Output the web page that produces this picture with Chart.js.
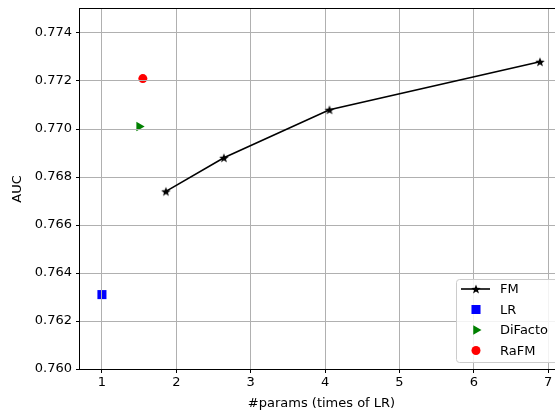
<!DOCTYPE html>
<html>
<head>
<meta charset="UTF-8">
<title>AUC vs params</title>
<script src="https://cdn.jsdelivr.net/npm/chart.js"></script>
<style>
  html, body { margin: 0; padding: 0; background: #fff; overflow: hidden; }
  #wrap { width: 600px; height: 411px; }
</style>
</head>
<body>
<div id="wrap"><canvas id="grafico"></canvas></div>
<script>
// dados
var fmX = [1.86, 2.64, 4.06, 6.89];
var fmY = [0.7674, 0.7688, 0.7708, 0.7728];
var lrX = [1.0];
var lrY = [0.7631];
var difactoX = [1.50];
var difactoY = [0.7701];
var rafmX = [1.55];
var rafmY = [0.7721];
var xTicks = [1, 2, 3, 4, 5, 6, 7];
var yTicks = [0.760, 0.762, 0.764, 0.766, 0.768, 0.770, 0.772, 0.774];

function pontos(xs, ys) {
  return xs.map(function (x, i) { return { x: x, y: ys[i] }; });
}

// estrela de 5 pontas (marcador '*' do matplotlib)
function estrela(r, cor) {
  var c = document.createElement('canvas');
  var s = Math.ceil(r * 2 + 2);
  c.width = s; c.height = s;
  var g = c.getContext('2d');
  g.beginPath();
  for (var i = 0; i < 10; i++) {
    var rr = i % 2 == 0 ? r : r * 0.42;
    var a = -Math.PI / 2 + i * Math.PI / 5;
    var px = s / 2 + rr * Math.cos(a), py = s / 2 + rr * Math.sin(a) + 0.5;
    if (i == 0) g.moveTo(px, py); else g.lineTo(px, py);
  }
  g.closePath();
  g.fillStyle = cor;
  g.fill();
  return c;
}
var marcaEstrela = estrela(5, '#000');

var fonte = { family: 'DejaVu Sans', size: 13 };

// grade por cima dos scatter, abaixo da linha (como no matplotlib)
var gradeSobre = {
  id: 'gradeSobre',
  beforeDatasetDraw: function (chart, args) {
    if (args.index !== 0) return;
    chart.scales.x.drawGrid(chart.chartArea);
    chart.scales.y.drawGrid(chart.chartArea);
  }
};

var moldura = {
  id: 'moldura',
  afterDraw: function (chart) {
    var a = chart.chartArea, ctx = chart.ctx;
    ctx.save();
    ctx.strokeStyle = '#000';
    ctx.lineWidth = 1;
    ctx.strokeRect(Math.round(a.left) - 0.5, Math.round(a.top) - 0.5, a.right - a.left + 1, a.bottom - a.top + 1);
    ctx.restore();
  }
};

var legenda = {
  id: 'legenda',
  afterDraw: function (chart) {
    var ctx = chart.ctx;
    var x0 = 456, y0 = 279, w = 108, h = 83;
    ctx.save();
    ctx.fillStyle = 'rgba(255,255,255,0.85)';
    ctx.strokeStyle = '#cccccc';
    ctx.lineWidth = 1;
    ctx.beginPath();
    ctx.roundRect(x0 + 0.5, y0 + 0.5, w, h, 3);
    ctx.fill();
    ctx.stroke();
    ctx.font = '13px "DejaVu Sans"';
    ctx.textBaseline = 'middle';
    chart.data.datasets.forEach(function (ds, i) {
      var cy = y0 + 10 + i * 20.5;
      var cx = x0 + 20;
      if (ds.showLine) {
        ctx.strokeStyle = ds.borderColor;
        ctx.lineWidth = ds.borderWidth;
        ctx.beginPath();
        ctx.moveTo(x0 + 5, cy);
        ctx.lineTo(x0 + 34, cy);
        ctx.stroke();
      }
      if (ds.pointStyle instanceof HTMLCanvasElement) {
        ctx.drawImage(ds.pointStyle, cx - ds.pointStyle.width / 2, cy - ds.pointStyle.height / 2);
      } else {
        ctx.fillStyle = ds.pointBackgroundColor;
        ctx.strokeStyle = ds.pointBackgroundColor;
        Chart.helpers.drawPoint(ctx, {
          pointStyle: ds.pointStyle, radius: ds.pointRadius, rotation: ds.rotation || 0, borderWidth: 0
        }, cx, cy);
      }
      ctx.fillStyle = '#000';
      ctx.fillText(ds.label, x0 + 44, cy + 1);
    });
    ctx.restore();
  }
};

var config = {
  type: 'scatter',
  data: {
    datasets: [{
      label: 'FM',
      data: pontos(fmX, fmY),
      showLine: true,
      borderColor: '#000',
      borderWidth: 1.6,
      pointStyle: marcaEstrela,
      pointRadius: 5,
      pointBackgroundColor: '#000'
    }, {
      label: 'LR',
      data: pontos(lrX, lrY),
      showLine: false,
      pointStyle: 'rect',
      pointRadius: 6.4,
      pointBorderWidth: 0,
      pointBackgroundColor: '#0000ff',
      borderColor: '#0000ff'
    }, {
      label: 'DiFacto',
      data: pontos(difactoX, difactoY),
      showLine: false,
      pointStyle: 'triangle',
      rotation: 90,
      pointRadius: 5.5,
      pointBorderWidth: 0,
      pointBackgroundColor: '#008000',
      borderColor: '#008000'
    }, {
      label: 'RaFM',
      data: pontos(rafmX, rafmY),
      showLine: false,
      pointStyle: 'circle',
      pointRadius: 4.5,
      pointBorderWidth: 0,
      pointBackgroundColor: '#ff0000',
      borderColor: '#ff0000'
    }]
  },
  options: {
    responsive: false,
    animation: false,
    devicePixelRatio: 1,
    layout: { padding: { top: 9, right: 37, bottom: 0, left: 0 } },
    plugins: { legend: { display: false }, tooltip: { enabled: false } },
    scales: {
      x: {
        type: 'linear',
        min: 0.705,
        max: 7.2,
        afterBuildTicks: function (s) { s.ticks = xTicks.map(function (v) { return { value: v }; }); },
        afterFit: function (s) { s.height = 42; s.paddingLeft = 0; s.paddingRight = 0; },
        grid: { color: '#b0b0b0', lineWidth: 1, tickLength: 4, tickColor: '#000', drawOnChartArea: true },
        border: { display: false },
        ticks: { color: '#000', font: fonte, padding: 2, maxRotation: 0 },
        title: { display: true, text: '#params (times of LR)', color: '#000', font: fonte, padding: { top: 0, bottom: 0 } }
      },
      y: {
        min: 0.760,
        max: 0.775,
        afterBuildTicks: function (s) { s.ticks = yTicks.map(function (v) { return { value: v }; }); },
        afterFit: function (s) { s.width = 80; s.paddingTop = 0; s.paddingBottom = 0; },
        grid: { color: '#b0b0b0', lineWidth: 1, tickLength: 4, tickColor: '#000' },
        border: { display: false },
        ticks: { color: '#000', font: fonte, padding: 4, callback: function (v) { return v.toFixed(3); } },
        title: { display: true, text: 'AUC', color: '#000', font: fonte, padding: { top: 10, bottom: 4 } }
      }
    }
  },
  plugins: [gradeSobre, moldura, legenda]
};

var canvas = document.getElementById('grafico');
canvas.width = 600;
canvas.height = 411;
new Chart(canvas, config);
</script>
</body>
</html>
